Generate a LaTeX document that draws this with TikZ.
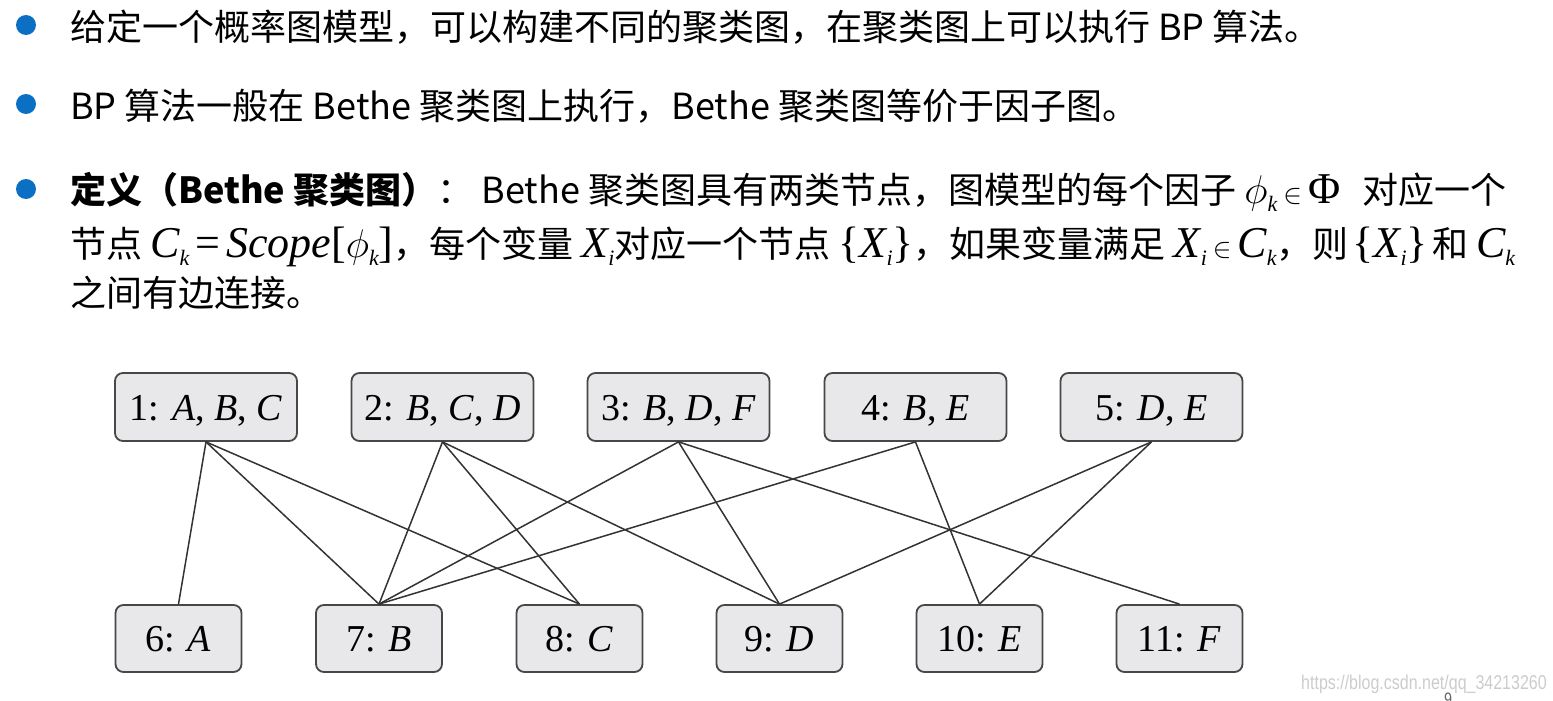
\RequirePackage{fix-cm}
\documentclass[tikz,border=0pt]{standalone}
\usepackage{fontspec}
\setmainfont{Noto Sans CJK SC}
\newfontfamily\tnr{Liberation Serif}
\newfontfamily\wmfont{Liberation Sans}[FakeStretch=0.8]
\definecolor{bulletblue}{HTML}{0B70C4}
\definecolor{boxfill}{HTML}{E8E8EA}
\definecolor{boxline}{HTML}{474747}
\definecolor{edgecol}{HTML}{333333}
\newcommand\vi[1]{{\fontsize{44}{44}\selectfont\tnr\itshape #1}}
\newcommand\vu[1]{{\fontsize{44}{44}\selectfont\tnr #1}}
\newcommand\sbs[1]{\raisebox{-0.45ex}{\fontsize{22}{22}\selectfont\tnr\itshape #1}}
\newcommand\ph{{\fontsize{40}{40}\selectfont$\phi$}}
\newcommand\inn{{\fontsize{28}{28}\selectfont$\in$}}
\begin{document}
\begin{tikzpicture}[x=1pt,y=-1pt,
  txt/.style={anchor=base west, inner sep=0pt, font=\fontsize{36}{36}\selectfont},
  dot/.style={circle, fill=bulletblue, minimum size=20pt, inner sep=0pt},
  box/.style={draw=boxline, line width=1.8pt, fill=boxfill, rounded corners=8pt, inner sep=0pt,
    text height=26pt, text depth=0pt, font=\fontsize{38}{38}\selectfont\tnr},
  topbox/.style={box, minimum width=182pt, minimum height=68pt},
  botbox/.style={box, minimum width=126pt, minimum height=67pt},
  edge/.style={draw=edgecol, line width=1.5pt}]
\useasboundingbox (0,0) rectangle (1553,701);
% bullets
\node[dot] (d1) at (26,25) {};
\node[dot] (d2) at (26,104) {};
\node[dot] (d3) at (26,189) {};
% text lines
\node[txt] (t1) at (70,41) {给定一个概率图模型，可以构建不同的聚类图，在聚类图上可以执行 BP 算法。};
\node[txt] (t2) at (70,119) {BP 算法一般在 Bethe 聚类图上执行，Bethe 聚类图等价于因子图。};
\node[txt] (t3) at (70,203) {{\bfseries 定义（Bethe 聚类图）}：\ Bethe 聚类图具有两类节点，图模型的每个因子 \ph\sbs{k}\,\inn\,\vu{Φ}\hspace{14pt} 对应一个};
\node[txt] (t4) at (70,257) {节点 \vi{C}\sbs{k}\,\vu{=}\,\vi{Scope}\vu{[}\ph\sbs{k}\vu{]}，每个变量 \vi{X}\sbs{i}对应一个节点 \vu{\{}\vi{X}\sbs{i}\vu{\}}，如果变量满足 \vi{X}\sbs{i}\,\inn\,\vi{C}\sbs{k}，则\kern-4pt\ \vu{\{}\vi{X}\sbs{i}\vu{\}}\kern-4pt\ 和 \vi{C}\sbs{k}};
\node[txt] (t5) at (70,306) {之间有边连接。};
% cluster nodes
\node[topbox] (c1) at (206,407) {1: \textit{A}, \textit{B}, \textit{C}};
\node[topbox] (c2) at (442.5,407) {2: \textit{B}, \textit{C}, \textit{D}};
\node[topbox] (c3) at (678.5,407) {3: \textit{B}, \textit{D}, \textit{F}};
\node[topbox] (c4) at (915.5,407) {4: \textit{B}, \textit{E}};
\node[topbox] (c5) at (1151.5,407) {5: \textit{D}, \textit{E}};
\node[botbox] (v6) at (178.5,638.5) {6: \textit{A}};
\node[botbox] (v7) at (379,638.5) {7: \textit{B}};
\node[botbox] (v8) at (579.5,638.5) {8: \textit{C}};
\node[botbox] (v9) at (779.5,638.5) {9: \textit{D}};
\node[botbox] (v10) at (979.5,638.5) {10: \textit{E}};
\node[botbox] (v11) at (1179.5,638.5) {11: \textit{F}};
% edges
\foreach \a/\b in {c1/v6,c1/v7,c1/v8,c2/v7,c2/v8,c2/v9,c3/v7,c3/v9,c3/v11,c4/v7,c4/v10,c5/v9,c5/v10}
  \draw[edge] (\a.south) -- (\b.north);
% watermark
\node[anchor=base west, inner sep=0pt, text=black!20, font=\fontsize{20}{20}\selectfont\wmfont] (wm) at (1301,689) {https://blog.csdn.net/qq\_34213260};
\node[anchor=base, inner sep=0pt, text=black!60, font=\fontsize{18}{18}\selectfont\wmfont] (pg) at (1448,705) {9};
\end{tikzpicture}
\end{document}
